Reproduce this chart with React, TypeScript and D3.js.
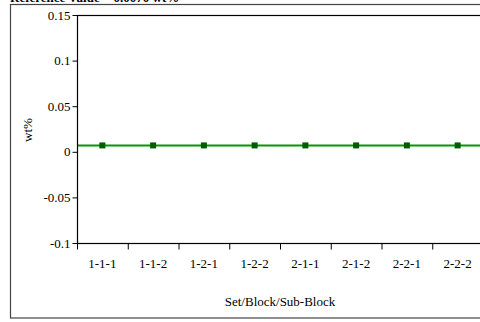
import { useEffect, useRef } from "react";
import * as d3 from "d3";

const categories = ["1-1-1", "1-1-2", "1-2-1", "1-2-2", "2-1-1", "2-1-2", "2-2-1", "2-2-2"];
const values = [0.007, 0.007, 0.007, 0.007, 0.007, 0.007, 0.007, 0.007];
const referenceValue = 0.007;
const yTicks = [-0.1, -0.05, 0, 0.05, 0.1, 0.15];

function App() {
  const svgRef = useRef<SVGSVGElement>(null);

  useEffect(() => {
    if (!svgRef.current) return;
    const svg = d3.select(svgRef.current);
    svg.selectAll("*").remove();

    const width = 480;
    const height = 322;
    const margin = { top: 15, right: -3, bottom: 79, left: 77 };
    const x0 = margin.left;
    const x1 = width - margin.right;
    const y0 = margin.top;
    const y1 = height - margin.bottom;
    const font = "'Liberation Serif', 'DejaVu Serif', serif";

    svg.attr("width", width).attr("height", height).style("font-family", font);

    // title, mostly cut off at the top
    svg
      .append("text")
      .attr("x", 10)
      .attr("y", 2)
      .attr("font-size", 13)
      .attr("font-weight", "bold")
      .text("Reference Value = 0.0070 wt%");

    // outer frame
    svg
      .append("rect")
      .attr("x", 10.5)
      .attr("y", 4.5)
      .attr("width", 480)
      .attr("height", 313.5)
      .attr("fill", "none")
      .attr("stroke", "#444")
      .attr("stroke-width", 1.2);

    const x = d3.scaleBand().domain(categories).range([x0, x1]);
    const y = d3.scaleLinear().domain([-0.1, 0.15]).range([y1, y0]);

    // plot box
    svg
      .append("rect")
      .attr("x", x0 + 0.5)
      .attr("y", y0 + 0.5)
      .attr("width", x1 - x0)
      .attr("height", y1 - y0)
      .attr("fill", "none")
      .attr("stroke", "#000")
      .attr("stroke-width", 1.2);

    // y axis
    const yAxis = svg.append("g").attr("transform", `translate(${x0 + 0.5},0)`);
    yAxis
      .call(d3.axisLeft(y).tickValues(yTicks).tickSize(5).tickPadding(2).tickFormat((d) => String(+d)))
      .select(".domain")
      .remove();
    yAxis.selectAll("text").attr("font-size", 13).attr("font-family", font).attr("fill", "#000");

    // x axis: ticks at band boundaries, labels centred in bands
    const bounds = categories.map((c) => x(c) as number).concat([x1]);
    const xAxis = svg.append("g").attr("transform", `translate(0,${y1 + 0.5})`);
    xAxis
      .selectAll("line")
      .data(bounds)
      .enter()
      .append("line")
      .attr("x1", (d) => d + 0.5)
      .attr("x2", (d) => d + 0.5)
      .attr("y1", 0)
      .attr("y2", 6)
      .attr("stroke", "#000");
    xAxis
      .selectAll("text")
      .data(categories)
      .enter()
      .append("text")
      .attr("x", (d) => (x(d) as number) + x.bandwidth() / 2)
      .attr("y", 24)
      .attr("text-anchor", "middle")
      .attr("font-size", 13)
      .text((d) => d);

    // axis titles
    svg
      .append("text")
      .attr("transform", `translate(${32},${130}) rotate(-90)`)
      .attr("text-anchor", "middle")
      .attr("font-size", 13)
      .text("wt%");
    svg
      .append("text")
      .attr("x", (x0 + x1) / 2)
      .attr("y", 306)
      .attr("text-anchor", "middle")
      .attr("font-size", 13)
      .text("Set/Block/Sub-Block");

    // reference line
    svg
      .append("line")
      .attr("x1", x0 + 1)
      .attr("x2", x1)
      .attr("y1", y(referenceValue))
      .attr("y2", y(referenceValue))
      .attr("stroke", "#009900")
      .attr("stroke-width", 2);

    // markers
    const size = 6;
    svg
      .selectAll(".pt")
      .data(values)
      .enter()
      .append("rect")
      .attr("class", "pt")
      .attr("x", (d, i) => (x(categories[i]) as number) + x.bandwidth() / 2 - size / 2)
      .attr("y", (d) => y(d) - size / 2)
      .attr("width", size)
      .attr("height", size)
      .attr("fill", "#005c00");
  }, []);

  return (
    <div style={{ position: "fixed", left: 0, top: 0, background: "#fff" }}>
      <svg ref={svgRef} style={{ display: "block" }}></svg>
    </div>
  );
}

export default App;
